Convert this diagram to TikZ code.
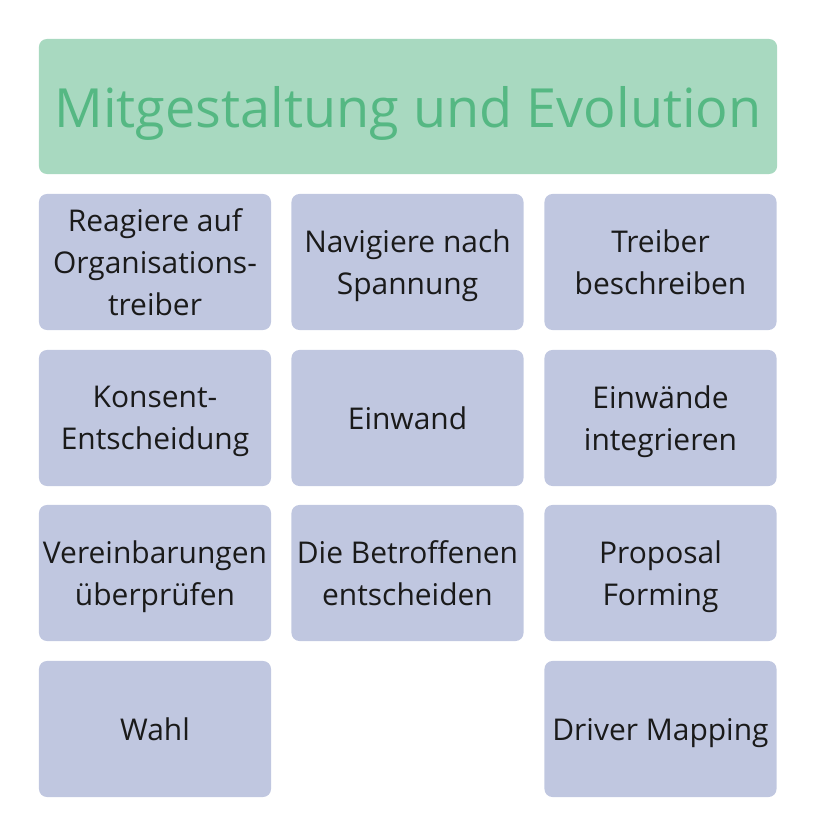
\documentclass[tikz,border=0pt]{standalone}
\usepackage{fontspec}
\setmainfont{Open Sans}
\definecolor{titlebg}{HTML}{A8D9C0}
\definecolor{titletext}{HTML}{55B883}
\definecolor{tilebg}{HTML}{C0C7E0}
\definecolor{tiletext}{HTML}{1A1A1A}
\tikzset{
  titlebox/.style={fill=titlebg, rounded corners=0.2cm, minimum width=18.45cm,
    minimum height=3.375cm, text=titletext, text depth=0pt,
    font=\fontsize{38.4pt}{46pt}\selectfont},
  tile/.style={fill=tilebg, rounded corners=0.2cm, minimum width=5.8cm,
    minimum height=3.4cm, text=tiletext, align=center, inner sep=0pt,
    text depth=0pt, font=\fontsize{21.3pt}{30.1pt}\selectfont}
}
\begin{document}
\begin{tikzpicture}[x=0.025cm, y=-0.025cm]
        % Rahmen
        \useasboundingbox (0,0) rectangle (816,836);

        % Titel
        \node[titlebox] (title) at (408,106.5) {Mitgestaltung und Evolution};

        % Erste Zeile
        \node[tile] (reagiere) at (155,262) {Reagiere auf\\Organisations-\\treiber};
        \node[tile] (navigiere) at (407.5,262) {Navigiere nach\\Spannung};
        \node[tile] (treiber) at (660.5,262) {Treiber\\beschreiben};

        % Zweite Zeile
        \node[tile] (konsent) at (155,418) {Konsent-\\Entscheidung};
        \node[tile] (einwand) at (407.5,418) {Einwand};
        \node[tile] (einwaende) at (660.5,418) {Einwände\\integrieren};

        % Dritte Zeile
        \node[tile] (vereinbarungen) at (155,573) {Vereinbarungen\\überprüfen};
        \node[tile] (betroffene) at (407.5,573) {Die Betroffenen\\entscheiden};
        \node[tile] (proposal) at (660.5,573) {Proposal\\Forming};

        % Vierte Zeile
        \node[tile] (wahl) at (155,729) {Wahl};
        \node[tile] (mapping) at (660.5,729) {Driver Mapping};
\end{tikzpicture}
\end{document}
